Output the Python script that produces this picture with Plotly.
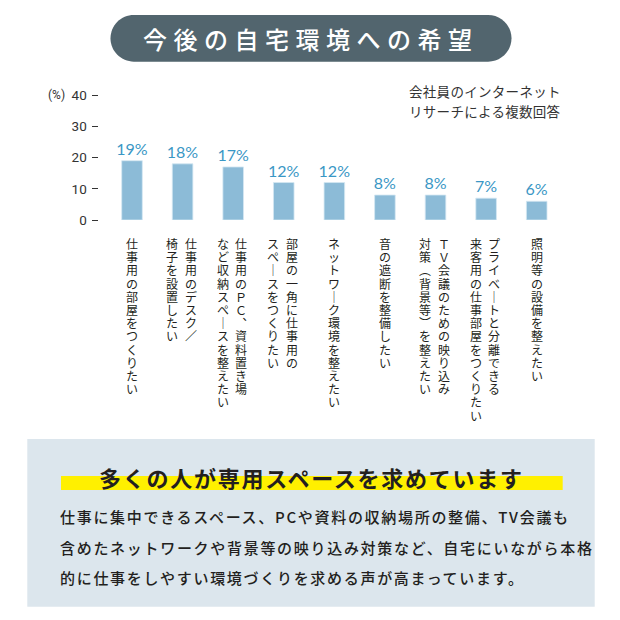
import plotly.graph_objects as go

W = H = 620
OFF = 8  # page body margin of the html page

# ---------------- data ----------------
title_text = "今後の自宅環境への希望"
note_lines = ["会社員のインターネット", "リサーチによる複数回答"]
unit_label = "(%)"
y_ticks = [0, 10, 20, 30, 40]

label_columns = [
    ["仕事用の部屋をつくりたい"],
    ["仕事用のデスク／", "椅子を設置したい"],
    ["仕事用のPC、資料置き場", "など収納スペースを整えたい"],
    ["部屋の一角に仕事用の", "スペースをつくりたい"],
    ["ネットワーク環境を整えたい"],
    ["音の遮断を整備したい"],
    ["TV会議のための映り込み", "対策（背景等）を整えたい"],
    ["プライベートと分離できる", "来客用の仕事部屋をつくりたい"],
    ["照明等の設備を整えたい"],
]
values = [19, 18, 17, 12, 12, 8, 8, 7, 6]

heading_text = "多くの人が専用スペースを求めています"
body_lines = [
    "仕事に集中できるスペース、PCや資料の収納場所の整備、TV会議も",
    "含めたネットワークや背景等の映り込み対策など、自宅にいながら本格",
    "的に仕事をしやすい環境づくりを求める声が高まっています。",
]

categories = ["".join(c) for c in label_columns]

# ---------------- helpers ----------------
def px(x):
    return (x - OFF) / W


def py(y):
    return 1 - (y - OFF) / H


VERT = {"ー": "｜", "、": "︑", "（": "︵", "）": "︶",
        "P": "Ｐ", "C": "Ｃ", "T": "Ｔ", "V": "Ｖ"}

FONT = "Noto Sans CJK JP"
BAR_COLOR = "#8cbbd7"
LABEL_COLOR = "#3a97c5"
TEXT = "#231f20"

fig = go.Figure()

fig.add_trace(go.Bar(
    x=categories, y=values,
    marker=dict(color=BAR_COLOR, line=dict(color="#d4e7f2", width=0.8)),
    text=[f"{v}%" for v in values],
    textposition="outside",
    constraintext="none",
    textfont=dict(family="Lato", size=16, color=LABEL_COLOR, weight=400),
    cliponaxis=False,
    hoverinfo="skip",
))

annotations = []

# vertical category labels: one text per column, one glyph per line.
STEP = 13.2
outer = STEP / 1.3


def vertical(col):
    return "<br>".join(
        f'<span style="font-size:12px">{VERT.get(ch, ch)}</span>' for ch in col)


for cat, cols in zip(categories, label_columns):
    offs = [0] if len(cols) == 1 else [8, -10.5]
    for col, off in zip(cols, offs):
        annotations.append(dict(
            x=cat, xref="x", y=0, yref="y",
            text=vertical(col), showarrow=False,
            xanchor="center", yanchor="top", align="center",
            borderpad=0,
            xshift=off, yshift=-14,
            font=dict(family=FONT, size=outer, color=TEXT),
        ))

# title
annotations.append(dict(
    x=px(311), y=py(38.5), xref="paper", yref="paper",
    text=f'<span style="letter-spacing:6.5px">{title_text}</span>',
    showarrow=False, xanchor="center", yanchor="middle",
    font=dict(family=FONT, size=24, color="white", weight=500),
))

# note
for i, line in enumerate(note_lines):
    annotations.append(dict(
        x=px(407), y=py(91 + 20 * i), xref="paper", yref="paper",
        text=f'<span style="letter-spacing:0.3px">{line}</span>',
        showarrow=False, xanchor="left", yanchor="middle",
        font=dict(family=FONT, size=13.5, color="#333333"),
    ))

# unit
annotations.append(dict(
    x=px(46), y=py(95), xref="paper", yref="paper", text=unit_label,
    showarrow=False, xanchor="left", yanchor="middle",
    font=dict(family="Roboto", size=12, color="#333333"),
))

# heading
annotations.append(dict(
    x=px(311), y=py(476.5), xref="paper", yref="paper",
    text=f'<span style="letter-spacing:1.75px"><b>{heading_text}</b></span>',
    showarrow=False, xanchor="center", yanchor="middle",
    font=dict(family=FONT, size=22, color=TEXT),
))

# body lines
for i, line in enumerate(body_lines):
    annotations.append(dict(
        x=px(58), y=py(516.5 + 30.5 * i), xref="paper", yref="paper",
        text=f'<span style="letter-spacing:1.7px">{line}</span>',
        showarrow=False, xanchor="left", yanchor="middle",
        font=dict(family=FONT, size=15, color=TEXT, weight=500),
    ))

# shapes
x1, x2, y1, y2 = 110.5, 511.5, 15, 61.7
r = (y2 - y1) / 2
yc = (y1 + y2) / 2
k = 0.5523 * r


def P(x, y):
    return f"{px(x):.5f},{py(y):.5f}"


pill = (f"M {P(x1 + r, y1)} L {P(x2 - r, y1)} "
        f"C {P(x2 - r + k, y1)} {P(x2, yc - k)} {P(x2, yc)} "
        f"C {P(x2, yc + k)} {P(x2 - r + k, y2)} {P(x2 - r, y2)} "
        f"L {P(x1 + r, y2)} "
        f"C {P(x1 + r - k, y2)} {P(x1, yc + k)} {P(x1, yc)} "
        f"C {P(x1, yc - k)} {P(x1 + r - k, y1)} {P(x1 + r, y1)} Z")

shapes = [
    dict(type="path", path=pill, xref="paper", yref="paper",
         fillcolor="#52656e", line=dict(width=0), layer="below"),
    dict(type="rect", xref="paper", yref="paper",
         x0=px(27.3), x1=px(594.7), y0=py(606.7), y1=py(439),
         fillcolor="#dce6ed", line=dict(width=0), layer="below"),
    dict(type="rect", xref="paper", yref="paper",
         x0=px(61), x1=px(562.7), y0=py(490), y1=py(476),
         fillcolor="#fff000", line=dict(width=0), layer="below"),
]

fig.update_layout(
    width=W, height=H,
    margin=dict(l=0, r=0, t=0, b=0, autoexpand=False),
    paper_bgcolor="white", plot_bgcolor="rgba(0,0,0,0)",
    showlegend=False,
    bargap=0.593,
    annotations=annotations,
    shapes=shapes,
    xaxis=dict(domain=[px(106.7), px(562)], range=[-0.5, 8.5],
               showticklabels=False, showgrid=False, zeroline=False,
               showline=False, ticks="", fixedrange=True),
    yaxis=dict(domain=[py(220), py(95.2)], range=[0, 40],
               anchor="free", position=px(97.5),
               tickvals=y_ticks, ticktext=[str(t) for t in y_ticks],
               ticks="outside", ticklen=6, tickwidth=1, tickcolor="#333333",
               tickfont=dict(family="Roboto", size=13.5, color="#333333"),
               ticklabelstandoff=2,
               showgrid=False, zeroline=False, showline=False,
               fixedrange=True),
)

fig.write_html("out.html")
